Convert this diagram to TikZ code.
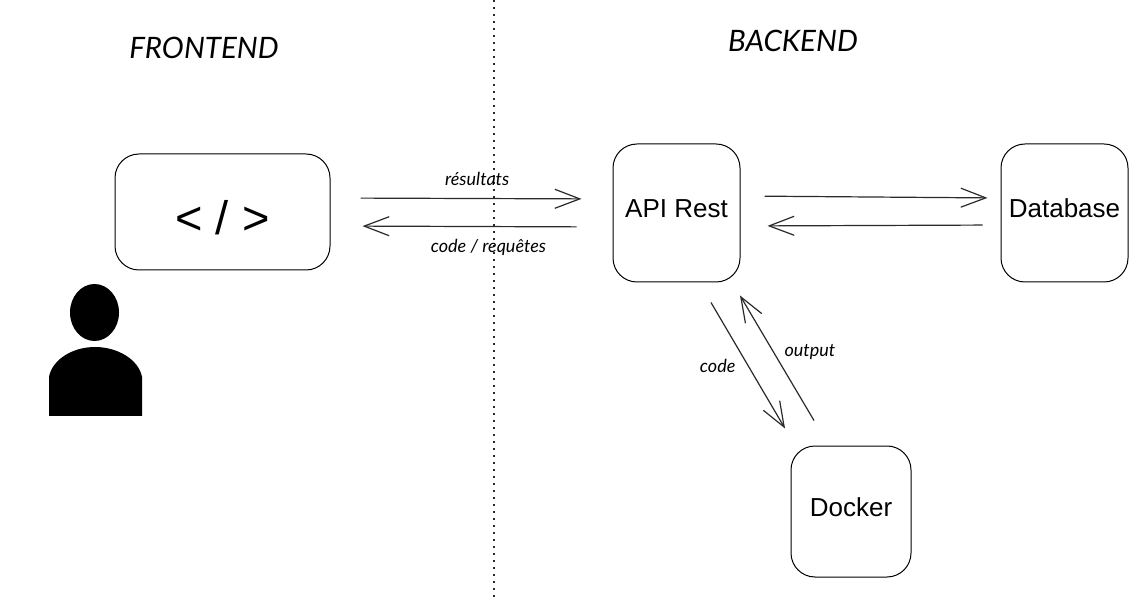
\documentclass[tikz,border=0pt]{standalone}
\usepackage{fontspec}
\usepackage{xcolor}
\usepackage{tikz}
\usetikzlibrary{arrows.meta,positioning}
\setmainfont{Liberation Sans}
\newfontfamily\handfont{Lato}
\definecolor{FlowGrey}{HTML}{2A2A2A}
\tikzset{
  apibox/.style={
    draw=black,
    rounded corners=24pt,
    line width=1pt,
    align=center,
    inner sep=0pt,
    text height=19pt,
    text depth=9pt,
    font=\fontsize{26}{30}\selectfont
  },
  apiflow/.style={-{Straight Barb[length=25pt,width=19pt,line width=1.2pt]}, line width=1.2pt, draw=FlowGrey},
  handtitle/.style={font=\handfont\itshape\fontsize{29.5}{32}\selectfont},
  handlabel/.style={font=\handfont\itshape\fontsize{18}{20}\selectfont, inner sep=0pt}
}
\begin{document}
\begin{tikzpicture}[x=1pt,y=1pt]
  \useasboundingbox (0,0) rectangle (1148,600);
  \coordinate (septop) at (494,600);
  \coordinate (sepbot) at (494,3);
  \draw[FlowGrey, line width=1.2pt, dash pattern=on 2pt off 5pt] (septop) -- (sepbot);
  \node[handtitle] (frontlabel) at (204,552) {FRONTEND};
  \node[handtitle] (backlabel) at (793,559) {BACKEND};
  \node[apibox, minimum width=215pt, minimum height=116pt, text height=45pt, text depth=0pt,
    font=\fontsize{47}{50}\selectfont] (front) at (222.5,388) {< / >};
  \node[apibox, minimum width=127pt, minimum height=138pt] (api) at (676.5,387) {API Rest};
  \node[apibox, minimum width=127pt, minimum height=138pt, right=260pt of api] (db) {Database};
  \node[apibox, minimum width=120pt, minimum height=131pt, below right=163pt and 50pt of api] (docker) {Docker};
  \draw[apiflow, shorten <=30pt, shorten >=31pt] ([yshift=14pt]front.east) --
    node[handlabel, above=12pt, pos=0.52]{résultats} ([yshift=14pt]api.west);
  \draw[apiflow, shorten <=36pt, shorten >=32pt] ([yshift=-14pt]api.west) --
    node[handlabel, below=12pt, pos=0.44]{code / requêtes} ([yshift=-14pt]front.east);
  \draw[apiflow, shorten <=24pt, shorten >=13pt] ([yshift=17pt]api.east) -- ([yshift=15pt]db.west);
  \draw[apiflow, shorten <=18pt, shorten >=27pt] ([yshift=-12pt]db.west) -- ([yshift=-13pt]api.east);
  \draw[apiflow] ([shift={(34.5pt,-20pt)}]api.south) --
    node[handlabel, left=12pt]{code} ([shift={(-66pt,17pt)}]docker.north);
  \draw[apiflow] ([shift={(-37pt,25pt)}]docker.north) --
    node[handlabel, right=7pt, yshift=6pt]{output} ([shift={(63.5pt,-13pt)}]api.south);
  % person
  \fill (94.5,287.5) ellipse [x radius=24.5, y radius=28.5];
  \fill (49,184) -- (49,223) .. controls (52,240) and (72,253) .. (95,253)
    .. controls (118,253) and (139,240) .. (142,223) -- (142,184) -- cycle;
\end{tikzpicture}
\end{document}
